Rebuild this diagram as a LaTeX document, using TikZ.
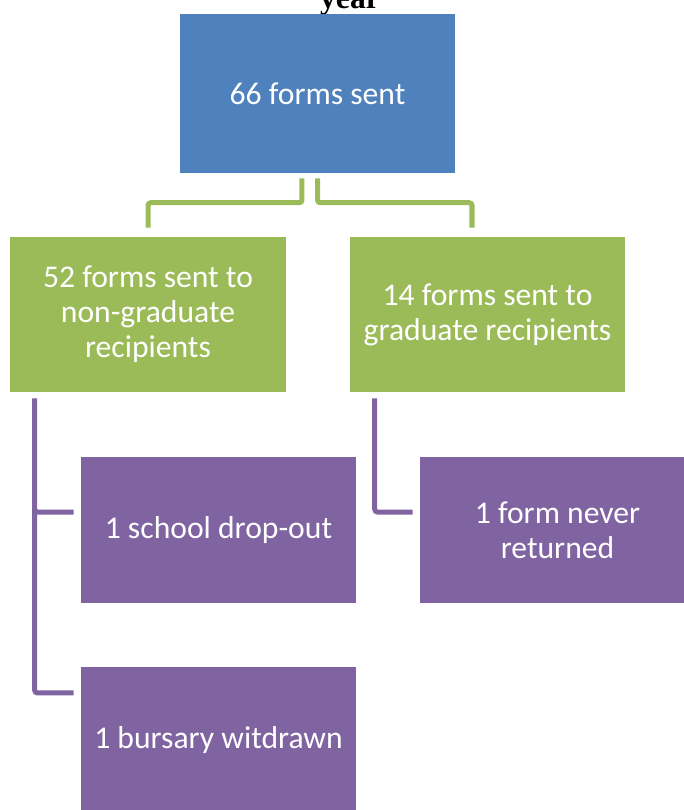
\documentclass[tikz,border=0pt]{standalone}
\usepackage{fontspec}
\setmainfont{Carlito}
\newfontfamily\titlefont{Liberation Serif}
\definecolor{boxblue}{HTML}{4F81BD}
\definecolor{boxgreen}{HTML}{9BBB59}
\definecolor{boxpurple}{HTML}{8064A2}
\tikzset{
  box/.style={rectangle, inner sep=0pt, text=white, align=center,
    font=\fontsize{22.5}{24.8}\selectfont},
  gconn/.style={line width=0.125cm, boxgreen, rounded corners=2pt},
  pconn/.style={line width=0.125cm, boxpurple, rounded corners=2pt},
}
\begin{document}
\begin{tikzpicture}[x=0.025cm,y=-0.025cm]
\useasboundingbox (0,0) rectangle (684,810);
% title, cut at the top of the page
\node[anchor=base,font=\titlefont\bfseries\fontsize{22.5}{25}\selectfont] (yr) at (350,8) {year};
% boxes
\node[box,fill=boxblue,minimum width=6.875cm,minimum height=3.975cm] (top) at (317.5,93.5) {66 forms sent};
\node[box,fill=boxgreen,minimum width=6.9cm,minimum height=3.875cm] (ngrad) at (148,314.5) {52 forms sent to\\non-graduate\\recipients};
\node[box,fill=boxgreen,minimum width=6.875cm,minimum height=3.875cm] (grad) at (487.5,314.5) {14 forms sent to\\graduate recipients};
\node[box,fill=boxpurple,minimum width=6.875cm,minimum height=3.65cm] (dropout) at (218.5,530) {1 school drop-out};
\node[box,fill=boxpurple,minimum width=6.875cm,minimum height=3.65cm] (never) at (557.5,530) {1 form never\\returned};
\node[box,fill=boxpurple,minimum width=6.875cm,minimum height=3.65cm] (bursary) at (218.5,740) {1 bursary witdrawn};
% connectors
\draw[gconn] ([xshift=-0.3875cm,yshift=-0.125cm]top.south) |- ([yshift=0.85cm]ngrad.north) -- ([yshift=0.225cm]ngrad.north);
\draw[gconn] ([yshift=-0.125cm]top.south) |- ([xshift=-0.3875cm,yshift=0.85cm]grad.north) -- ([xshift=-0.3875cm,yshift=0.225cm]grad.north);
\draw[pconn] ([xshift=0.625cm,yshift=-0.15cm]ngrad.south west) |- ([xshift=-0.175cm,yshift=0.45cm]dropout.west)
  ([xshift=0.625cm,yshift=-0.15cm]ngrad.south west) |- ([xshift=-0.175cm,yshift=1.175cm]bursary.west);
\draw[pconn] ([xshift=0.625cm,yshift=-0.15cm]grad.south west) |- ([xshift=-0.175cm,yshift=0.45cm]never.west);
\end{tikzpicture}
\end{document}
